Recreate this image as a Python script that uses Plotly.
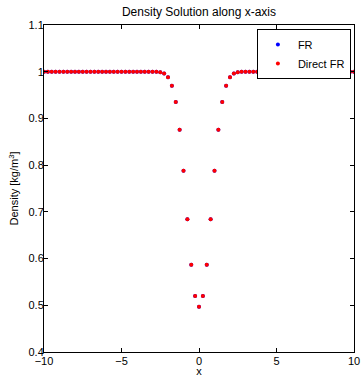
import plotly.graph_objects as go

# x positions: 81 grid points from -10 to 10 (step 0.25)
x_vals = [-10 + 0.25 * i for i in range(81)]

# density (symmetric dip around x=0)
center_profile = [0.497, 0.52, 0.587, 0.684, 0.788, 0.876, 0.935, 0.970, 0.988, 0.996, 0.999]
right_side = center_profile + [1.0] * (40 - (len(center_profile) - 1))
density_fr = list(reversed(right_side[1:])) + right_side
density_direct = list(density_fr)

x_ticks = [-10, -5, 0, 5, 10]
x_tick_labels = ["\u221210", "\u22125", "0", "5", "10"]
y_ticks = [0.4, 0.5, 0.6, 0.7, 0.8, 0.9, 1.0, 1.1]
y_tick_labels = ["0.4", "0.5", "0.6", "0.7", "0.8", "0.9", "1", "1.1"]

font_family = "Liberation Sans, Arial, Helvetica, sans-serif"

fig = go.Figure()
fig.add_trace(go.Scatter(x=x_vals, y=density_fr, mode="markers", name="FR",
                         marker=dict(color="#0000ff", size=4)))
fig.add_trace(go.Scatter(x=x_vals, y=density_direct, mode="markers", name="Direct FR",
                         marker=dict(color="#ff0000", size=4)))

axis_common = dict(showline=True, linecolor="black", linewidth=1, mirror="ticks",
                   ticks="inside", ticklen=4, tickcolor="black", showgrid=False,
                   zeroline=False,
                   tickfont=dict(family=font_family, size=11, color="black"))

fig.update_layout(
    width=362, height=377,
    margin=dict(l=44, r=8, t=25, b=25, autoexpand=False),
    paper_bgcolor="white", plot_bgcolor="white",
    title=dict(text="Density Solution along x-axis", x=0.5, xanchor="center",
               y=1 - 12 / 377, yanchor="middle",
               xref="paper",
               font=dict(family=font_family, size=12, color="black")),
    xaxis=dict(range=[-10, 10], tickvals=x_ticks, ticktext=x_tick_labels,
               ticklabelstandoff=-1, automargin=True,
               title=dict(text="x", standoff=2, font=dict(family=font_family, size=11, color="black")),
               **axis_common),
    yaxis=dict(range=[0.4, 1.1], tickvals=y_ticks, ticktext=y_tick_labels,
               ticklabelstandoff=-3, automargin=True,
               title=dict(text="Density [kg/m<sup>3</sup>]", standoff=7,
                          font=dict(family=font_family, size=11, color="black")),
               **axis_common),
    legend=dict(x=0.99, y=0.988, xanchor="right", yanchor="top",
                bordercolor="black", borderwidth=1, bgcolor="white",
                font=dict(family=font_family, size=11, color="black"),
                itemwidth=30, tracegroupgap=0),
    showlegend=True,
)

fig.write_html("out.html")
